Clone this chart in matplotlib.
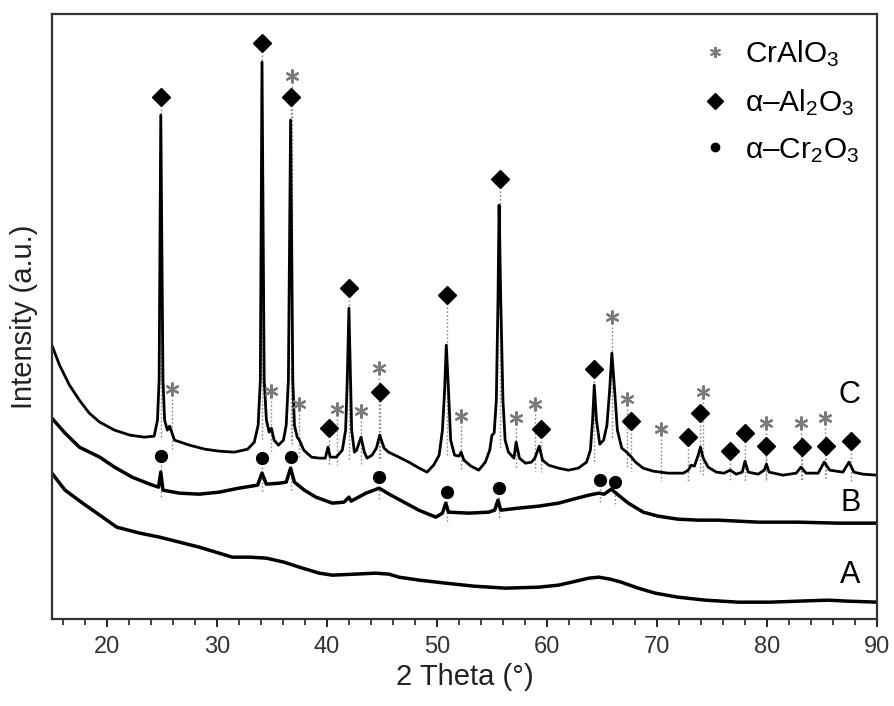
import numpy as np
import matplotlib
matplotlib.use("Agg")
import matplotlib.pyplot as plt
from matplotlib.lines import Line2D

plt.rcParams['font.family'] = ['Liberation Sans', 'DejaVu Sans']
plt.rcParams['mathtext.fontset'] = 'custom'
plt.rcParams['mathtext.rm'] = 'Liberation Sans'
plt.rcParams['mathtext.it'] = 'Liberation Sans:italic'
plt.rcParams['mathtext.bf'] = 'Liberation Sans:bold'

# ---- data: 2-theta (deg) and intensity (a.u.) ----
c_theta = [15.0, 15.7, 16.6, 17.5, 18.4, 19.35, 20.7, 22.1, 23.4, 24.3, 24.6, 24.75, 24.9, 25.1, 25.25,
           25.5, 25.7, 26.15, 27.5, 28.9, 30.2, 31.6, 32.8, 33.4, 33.75, 33.95, 34.1, 34.3, 34.5, 34.75,
           34.95, 35.2, 35.6, 36.05, 36.3, 36.5, 36.7, 36.9, 37.05, 37.3, 37.5, 37.9, 38.6, 39.3, 39.85,
           40.1, 40.3, 40.85, 41.4, 41.7, 41.85, 42.0, 42.15, 42.25, 42.5, 42.7, 43.1, 43.4, 43.65, 44.1,
           44.5, 44.8, 45.2, 45.6, 46.55, 47.45, 48.4, 49.1, 49.7, 50.2, 50.5, 50.7, 50.85, 51.05, 51.25,
           51.6, 52.0, 52.2, 52.45, 53.1, 53.8, 54.4, 54.8, 55.0, 55.2, 55.4, 55.55, 55.65, 55.8, 56.0,
           56.2, 56.5, 57.0, 57.2, 57.5, 58.05, 58.6, 58.9, 59.3, 59.6, 60.15, 61.05, 61.95, 62.85, 63.6,
           63.95, 64.15, 64.3, 64.5, 64.8, 65.15, 65.45, 65.7, 65.9, 66.15, 66.4, 66.8, 67.25, 67.6, 68.05,
           68.75, 69.65, 71.0, 72.4, 72.85, 73.1, 73.4, 73.75, 73.95, 74.2, 74.65, 75.4, 76.1, 76.65, 77.2,
           77.75, 78.0, 78.3, 79.2, 79.75, 79.95, 80.2, 81.45, 82.65, 83.1, 83.55, 84.65, 85.2, 85.7, 86.9,
           87.45, 87.9, 88.7, 90.0]
c_int = [274, 254, 234, 219, 206, 197, 189, 184, 182, 183, 199, 239, 504, 239, 199,
         189, 193, 179, 174, 170, 168, 167, 170, 177, 194, 239, 557, 239, 199, 187,
         191, 179, 174, 179, 194, 239, 499, 239, 194, 182, 179, 169, 162, 161, 161,
         172, 162, 162, 169, 189, 239, 311, 239, 189, 167, 169, 182, 167, 161, 164,
         171, 184, 171, 167, 162, 157, 151, 147, 154, 164, 189, 229, 274, 229, 179,
         164, 163, 167, 159, 153, 149, 157, 169, 184, 186, 219, 319, 414, 319, 219,
         179, 167, 161, 177, 161, 156, 157, 161, 173, 159, 154, 151, 149, 151, 157,
         169, 199, 234, 199, 175, 179, 194, 229, 266, 229, 189, 171, 167, 163, 157,
         151, 148, 146, 146, 149, 154, 153, 164, 172, 161, 152, 147, 146, 149, 145,
         147, 158, 147, 145, 149, 155, 147, 144, 146, 152, 146, 146, 157, 149, 147,
         157, 147, 145, 144]

b_theta = [15.0, 16.2, 17.5, 19.35, 20.7, 22.3, 23.9, 24.7, 24.9, 25.1, 26.6, 28.4, 30.2, 32.0, 33.7,
           34.1, 34.5, 35.7, 36.3, 36.7, 37.05, 37.95, 39.0, 40.5, 41.55, 42.0, 42.2, 43.55, 44.75, 45.65,
           47.0, 48.35, 49.9, 50.5, 50.8, 51.05, 52.9, 54.7, 55.25, 55.55, 55.8, 57.4, 59.25, 61.05, 62.4,
           63.8, 64.7, 65.2, 65.85, 66.5, 67.4, 68.75, 70.1, 71.9, 73.75, 75.55, 79.2, 82.8, 86.45, 90.0]
b_int = [201, 186, 172, 162, 152, 142, 135, 132, 147, 129, 126, 125, 127, 131, 134,
         146, 135, 136, 137, 151, 137, 129, 122, 116, 117, 122, 118, 126, 131, 125,
         117, 109, 102, 106, 116, 107, 106, 107, 109, 119, 109, 111, 113, 116, 120,
         124, 126, 125, 130, 124, 116, 107, 103, 100, 99, 99, 97, 97, 96, 96]

a_theta = [15.0, 16.2, 17.8, 19.35, 20.9, 23.0, 24.8, 26.6, 28.4, 30.2, 31.4, 33.0, 34.5, 36.1, 37.5,
           39.3, 40.5, 42.5, 44.45, 45.65, 46.55, 48.4, 50.8, 53.35, 56.25, 59.25, 61.05, 62.25, 63.8, 64.7,
           65.75, 66.75, 68.3, 69.85, 71.9, 74.4, 77.35, 80.35, 82.8, 85.55, 87.35, 90.0]
a_int = [146, 129, 116, 104, 92, 86, 82, 77, 72, 66, 62, 62, 61, 57, 52,
         46, 44, 45, 46, 45, 42, 39, 36, 33, 31, 32, 34, 37, 41, 42,
         40, 37, 31, 26, 22, 19, 17, 17, 18, 19, 18, 17]

# phase markers (2-theta, intensity position)
al2o3_theta = [24.9, 34.1, 36.75, 40.2, 42.0, 44.8, 50.9, 55.7, 59.5, 64.3, 67.6, 72.8, 73.9, 76.6,
               78.0, 79.9, 83.2, 85.4, 87.6]
al2o3_pos = [522, 576, 522, 191, 331, 227, 324, 440, 190, 250, 198, 182, 206, 168, 186, 173, 172, 173, 178]
cralo3_theta = [25.9, 34.9, 36.8, 37.5, 40.9, 43.1, 44.7, 52.2, 57.2, 58.9, 65.9, 67.3, 70.4, 74.2,
                79.9, 83.1, 85.3]
cralo3_pos = [230, 228, 543, 215, 210, 208, 251, 203, 201, 215, 302, 220, 190, 227, 196, 196, 201]
cr2o3_theta = [24.9, 34.1, 36.7, 44.7, 50.9, 55.6, 64.8, 66.2]
cr2o3_pos = [163, 161, 162, 142, 127, 131, 139, 137]

sample_labels = ['C', 'B', 'A']
label_pos = [224, 116, 44]

# ---- figure ----
fig = plt.figure(figsize=(8.94, 7.06), dpi=100)
ax = fig.add_axes([0.058, 0.123, 0.923, 0.857])

ax.plot(a_theta, a_int, color='black', lw=2.5, solid_joinstyle='round')
ax.plot(b_theta, b_int, color='black', lw=2.5, solid_joinstyle='round')
ax.plot(c_theta, c_int, color='black', lw=2.0, solid_joinstyle='round')

def drop_lines(xs, ys, cx, cy, gap):
    for x, y in zip(xs, ys):
        base = min(np.interp(x - 0.5, cx, cy), np.interp(x + 0.5, cx, cy)) - 8
        ax.plot([x, x], [y - gap, base], color='#8a8a8a', lw=1.0, ls=(0, (1.2, 1.5)), zorder=1)

drop_lines(al2o3_theta, al2o3_pos, c_theta, c_int, 12)
drop_lines(cralo3_theta, cralo3_pos, c_theta, c_int, 10)
drop_lines(cr2o3_theta, cr2o3_pos, b_theta, b_int, 9)

ax.plot(al2o3_theta, al2o3_pos, ls='none', marker='D', ms=9.5, color='black', zorder=4)
ax.plot(cralo3_theta, cralo3_pos, ls='none', marker=(6, 2, 0), ms=10, mew=1.6, color='#7a7a7a', zorder=4)
ax.plot(cr2o3_theta, cr2o3_pos, ls='none', marker='o', ms=8.5, color='black', zorder=4)

for lab, y in zip(sample_labels, label_pos):
    ax.text(88.5, y, lab, fontsize=22, ha='right', va='center')

handles = [
    Line2D([], [], ls='none', marker=(6, 2, 0), ms=8, mew=1.4, color='#7a7a7a'),
    Line2D([], [], ls='none', marker='D', ms=8, color='black'),
    Line2D([], [], ls='none', marker='o', ms=6, color='black'),
]
labels = ['CrAlO$_3$', 'α–Al$_2$O$_3$', 'α–Cr$_2$O$_3$']
ax.legend(handles, labels, loc='upper left', bbox_to_anchor=(0.766, 0.992), frameon=False,
          fontsize=21.5, handlelength=0.8, handletextpad=0.6, labelspacing=0.6, borderaxespad=0.25)

ax.set_xlim(15, 90)
ax.set_ylim(0, 605)
ax.set_xticks([20, 30, 40, 50, 60, 70, 80, 90])
ax.set_xticks(np.arange(16, 90, 2), minor=True)
ax.set_yticks([])
ax.tick_params(axis='x', which='major', direction='out', length=6, width=1.4, labelsize=17, pad=6,
               top=False, colors='#222222', labelcolor='#333333')
ax.tick_params(axis='x', which='minor', direction='out', length=4, width=1.2, top=False, colors='#222222')
for s in ax.spines.values():
    s.set_linewidth(1.6)
    s.set_color('#333333')

ax.set_xlabel('2 Theta (°)', fontsize=21, color='#222222', labelpad=4)
ax.set_ylabel('Intensity (a.u.)', fontsize=21, color='#222222', labelpad=10)

fig.savefig('out.png', dpi=100)
